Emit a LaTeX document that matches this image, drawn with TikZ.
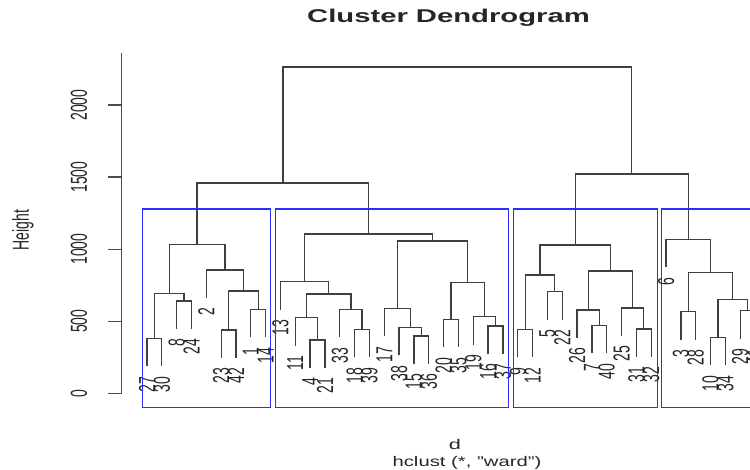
\documentclass[tikz,border=0pt]{standalone}
\usepackage{fontspec}
\setmainfont{Liberation Sans}
\definecolor{rblue}{RGB}{45,45,255}
\begin{document}
\begin{tikzpicture}[x=1pt,y=-1pt,
  dline/.style={draw=black!75, line width=1.35pt},
  axline/.style={draw=black!70, line width=1.2pt},
  boxline/.style={draw=rblue, line width=1.2pt},
  lab/.style={font=\fontsize{14}{14}\selectfont, text=black!85, inner sep=0pt, xscale=1.65, rotate=90},
  leaf/.style={lab, anchor=east},
  flat/.style={text=black!85, inner sep=0pt, anchor=base}]
\useasboundingbox (0,0) rectangle (750,470);
\clip (0,0) rectangle (750,470);

% title and axis titles
\node[flat, font=\bfseries\fontsize{18.5}{18.5}\selectfont, xscale=1.58] (title) at (448.5,23) {Cluster Dendrogram};
\node[flat, font=\fontsize{14}{14}\selectfont, xscale=1.55] (xlab) at (455,449) {d};
\node[flat, font=\fontsize{14}{14}\selectfont, xscale=1.45] (sub) at (467,466) {hclust (*, "ward")};
\node[lab] (ylab) at (23,230) {Height};

% y axis
\coordinate (atop) at (121.7,53.3);
\coordinate (abot) at (121.7,393.3);
\draw[axline] (atop) -- (abot);
\foreach \v/\y in {0/393.3,500/321.2,1000/249.2,1500/177.1,2000/105.0}{
  \coordinate (tk\v) at (121.7,\y);
  \coordinate (tl\v) at (108.3,\y);
  \draw[axline] (tl\v) -- (tk\v);
  \node[lab] (yt\v) at (79,\y) {\v};
}

% leaves
\foreach \n/\x/\b in {27/147.0/366.3, 30/161.8/366.3, 8/176.7/329, 24/191.5/329,
  2/206.3/298, 23/221.2/358, 42/236.0/358, 1/250.8/337.3, 14/265.6/337.3,
  13/280.5/309.7, 11/295.3/345.7, 4/310.1/368, 21/325.0/368, 33/339.8/337.3,
  18/354.6/357.3, 39/369.5/357.3, 17/384.3/336.3, 38/399.1/355.3, 15/413.9/364,
  36/428.8/364, 20/443.6/347.3, 35/458.4/347.3, 19/473.3/344.7, 16/488.1/354,
  37/502.9/354, 9/517.8/357.3, 12/532.6/357.3, 5/547.4/319.7, 22/562.2/319.7,
  26/577.1/338, 7/591.9/353.3, 40/606.7/353.3, 25/621.6/336, 31/636.4/357,
  32/651.2/357, 6/666.1/267.3, 3/680.9/339.7, 28/695.7/339.7, 10/710.5/365.3,
  34/725.4/365.3, 29/740.2/338.7, 41/755.0/338.7}{
  \coordinate (t\n) at (\x,\b);
  \node[leaf] (n\n) at (\x,\b+10) {\n};
}

% merges (bottom-up)
\foreach \m/\x/\y/\l/\r in {
  A1/154.4/338.3/t27/t30, A2/184.1/301/t8/t24, A3/169.3/293.3/A1/A2,
  A4/228.6/330/t23/t42, A5/258.2/309.3/t1/t14, A6/243.4/291/A4/A5,
  A7/224.9/270/t2/A6, A8/197.1/244.3/A3/A7,
  B1/317.6/340/t4/t21, B2/306.4/317.7/t11/B1, B3/362.0/329.3/t18/t39,
  B4/350.9/309.3/t33/B3, B5/328.7/294/B2/B4, B6/304.6/281.7/t13/B5,
  B7/421.4/336/t15/t36, B8/410.2/327.3/t38/B7, B9/397.3/308.3/t17/B8,
  B10/451.0/319.3/t20/t35, B11/495.5/326/t16/t37, B12/484.4/316.7/t19/B11,
  B13/467.7/282.7/B10/B12, B14/432.5/241/B9/B13, B15/368.6/234/B6/B14,
  C12/282.9/183/A8/B15,
  D1/525.2/329.3/t9/t12, D2/554.8/291.7/t5/t22, D3/540.0/275/D1/D2,
  D4/599.3/325.3/t7/t40, D5/588.2/310/t26/D4, D6/643.8/329/t31/t32,
  D7/632.7/308/t25/D6, D8/610.5/271/D5/D7, D9/575.2/245/D3/D8,
  E1/688.3/311.7/t3/t28, E2/718.0/337.3/t10/t34, E3/747.6/310.7/t29/t41,
  E4/732.8/299.3/E2/E3, E5/710.5/272.7/E1/E4, E6/688.3/239.3/t6/E5,
  C34/631.8/174/D9/E6, R/457.4/67/C12/C34}{
  \coordinate (\m) at (\x,\y);
  \draw[dline] (\l) |- (\m) -| (\r);
}

% cluster boxes
\draw[boxline] (142.3,209) rectangle (270.7,407.8);
\draw[boxline] (275.7,209) rectangle (508.3,407.8);
\draw[boxline] (513.3,209) rectangle (657.3,407.8);
\draw[boxline] (661.7,209) rectangle (760,407.8);
\end{tikzpicture}
\end{document}
